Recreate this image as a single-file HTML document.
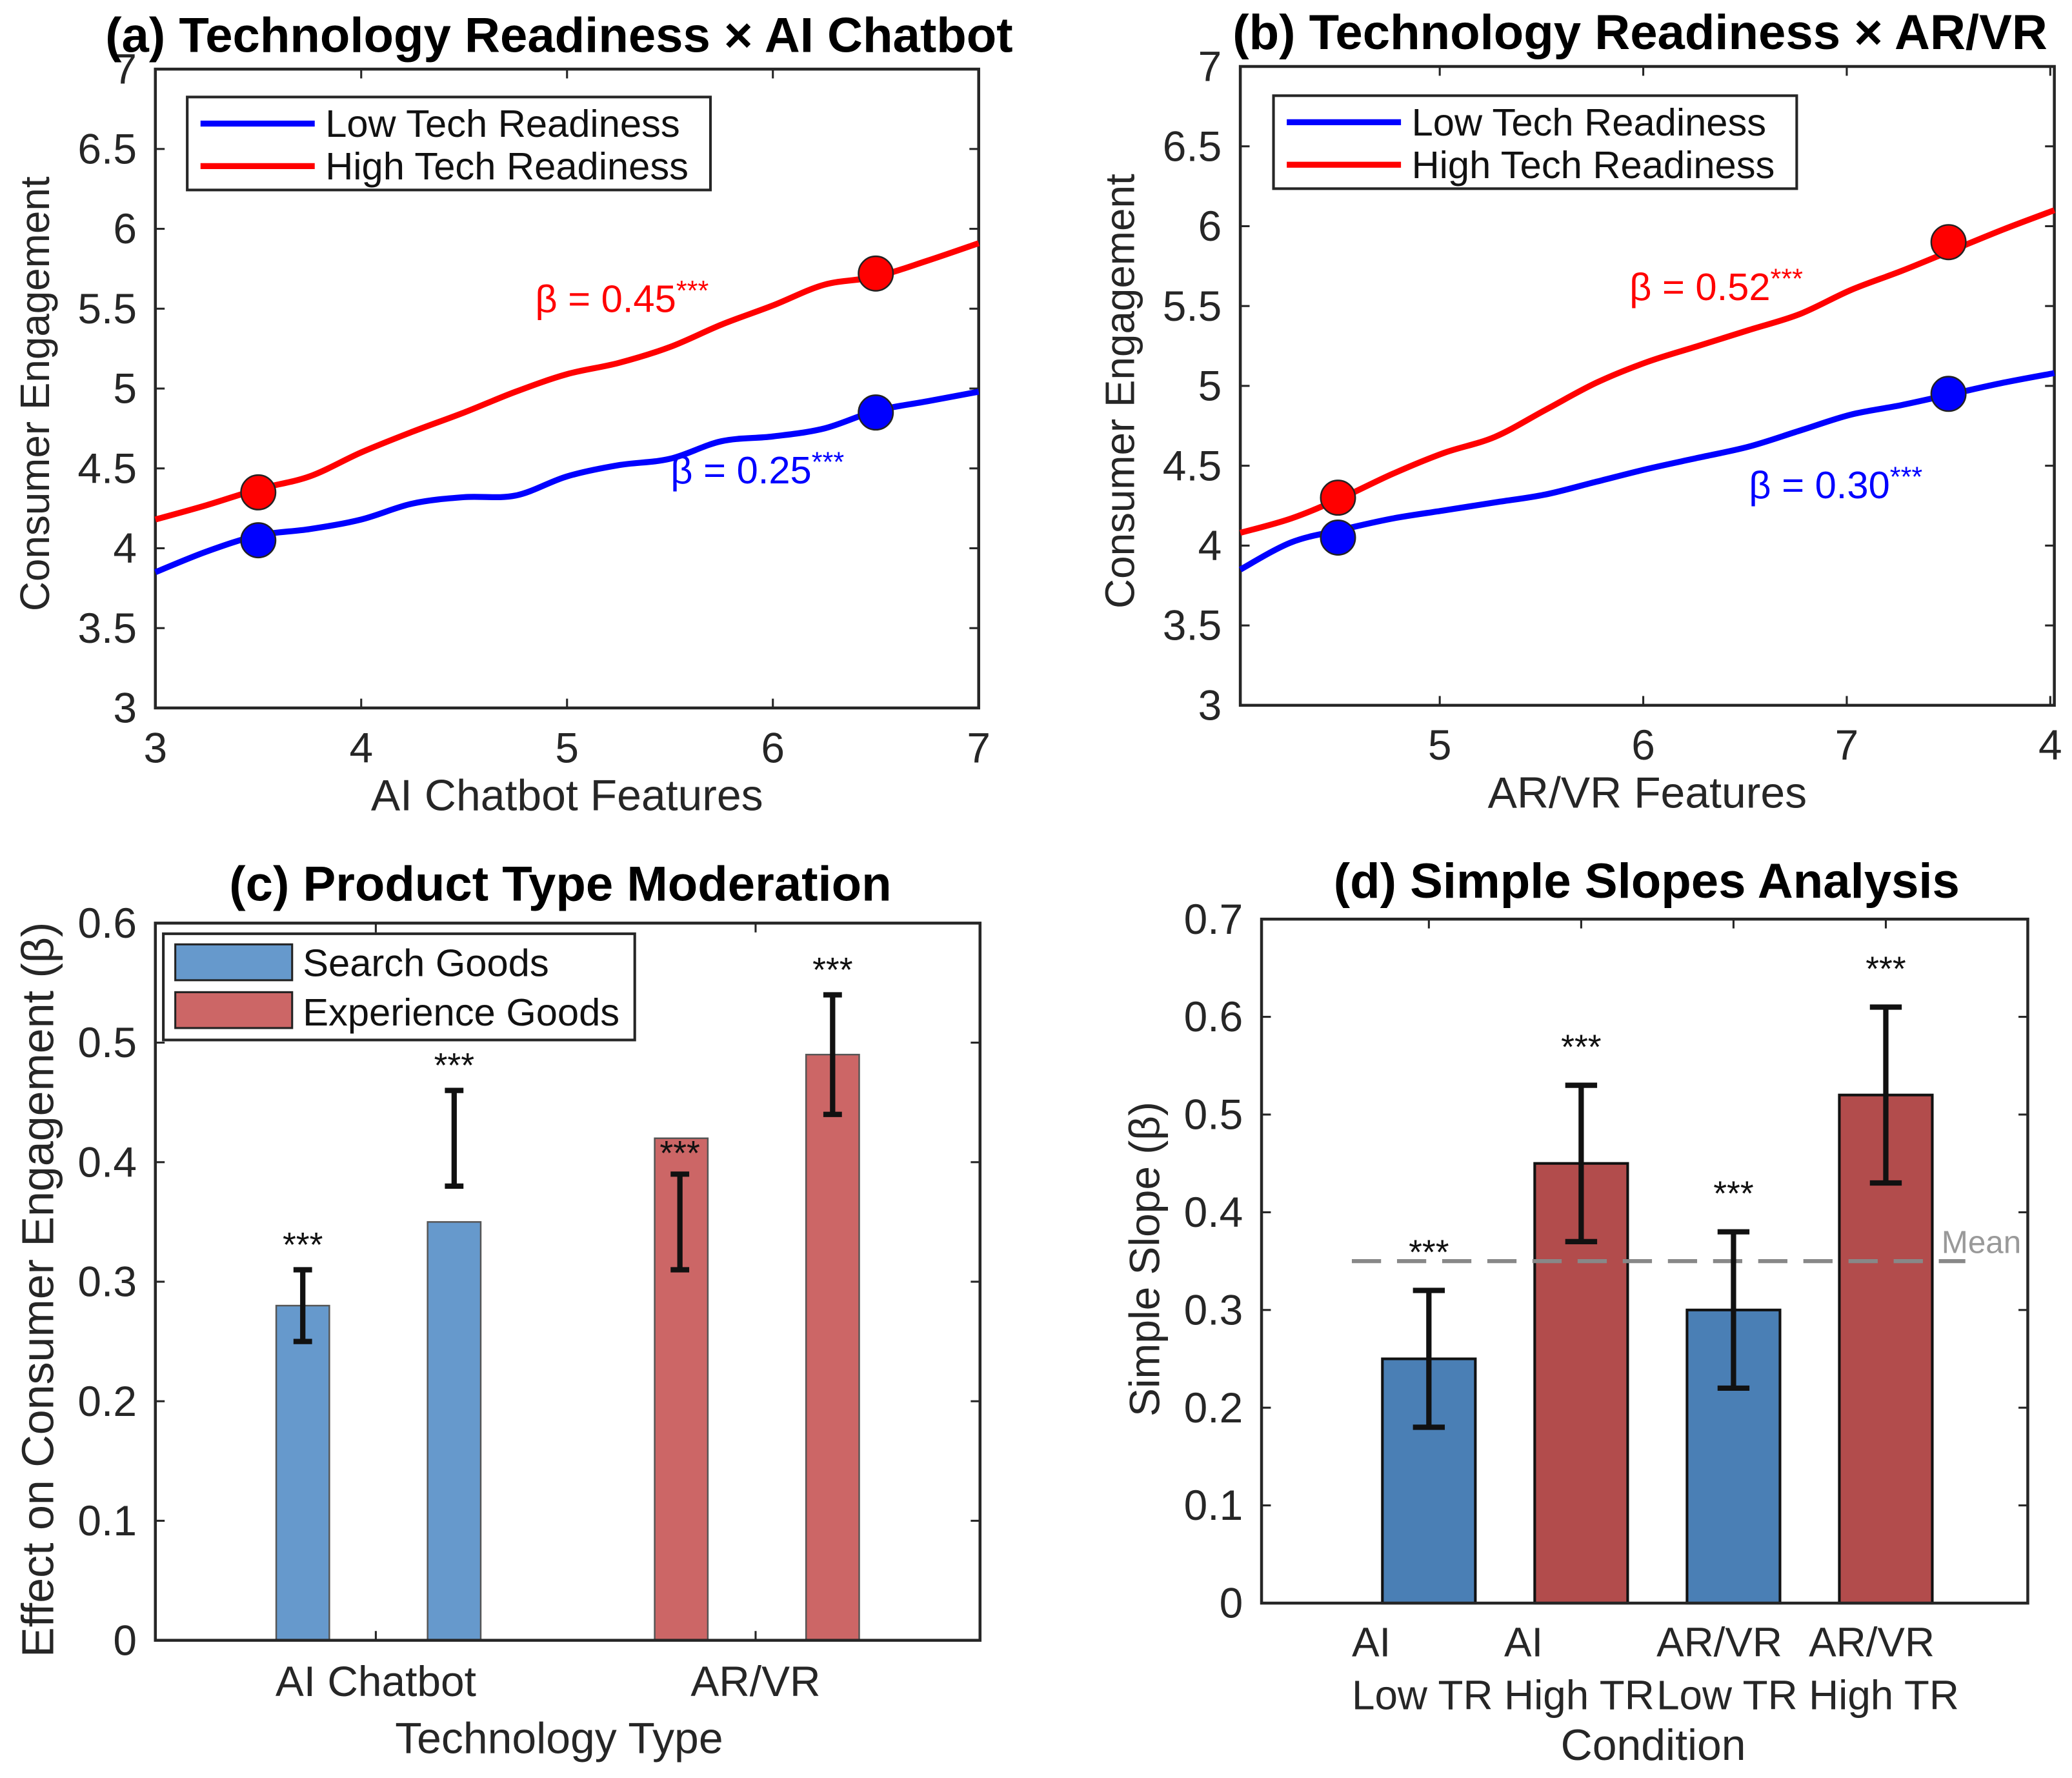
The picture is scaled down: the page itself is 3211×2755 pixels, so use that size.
<!DOCTYPE html>
<html><head><meta charset="utf-8"><style>
html,body{margin:0;padding:0;background:#fff}
svg text{font-family:"Liberation Sans",Arial,sans-serif}
</style></head><body>
<svg id="fig" xmlns="http://www.w3.org/2000/svg" width="3211" height="2750" viewBox="0 0 1560.3 1336.2">
<rect width="1560.3" height="1336.2" fill="#fff"/>
</svg>
<script>
// ---- Data ----
const lineX = [0,0.25,0.5,0.75,1,1.25,1.5,1.75,2,2.25,2.5,2.75,3,3.25,3.5,3.75,4];
const aHigh = [4.18,4.27,4.37,4.45,4.6,4.73,4.85,4.98,5.09,5.16,5.26,5.4,5.52,5.65,5.7,5.8,5.91];
const aLow  = [3.85,3.98,4.08,4.12,4.18,4.28,4.32,4.33,4.45,4.52,4.56,4.67,4.7,4.75,4.86,4.92,4.98];
const bHigh = [4.08,4.17,4.3,4.45,4.58,4.68,4.85,5.02,5.15,5.25,5.35,5.45,5.6,5.72,5.85,5.98,6.1];
const bLow  = [3.85,4.02,4.1,4.17,4.22,4.27,4.32,4.4,4.48,4.55,4.62,4.72,4.82,4.88,4.95,5.02,5.08];
const aMarkX = [3.5,6.5], aMarkHigh=[4.35,5.72], aMarkLow=[4.05,4.85];
const bMarkX = [4.5,7.5], bMarkHigh=[4.3,5.9], bMarkLow=[4.05,4.95];
const yTicksAB = [3,3.5,4,4.5,5,5.5,6,6.5,7];
const yTickLabelsAB = ["3","3.5","4","4.5","5","5.5","6","6.5","7"];
const cCats = ["AI Chatbot","AR/VR"];
const cSearch = [0.28,0.35], cSearchLo=[0.25,0.38], cSearchHi=[0.31,0.46];
const cExp = [0.42,0.49], cExpLo=[0.31,0.44], cExpHi=[0.39,0.54];
const cYTicks = [0,0.1,0.2,0.3,0.4,0.5,0.6];
const dCats1 = ["AI","AI","AR/VR","AR/VR"];
const dCats2 = ["Low TR","High TR","Low TR","High TR"];
const dVals = [0.25,0.45,0.30,0.52];
const dLo = [0.18,0.37,0.22,0.43];
const dHi = [0.32,0.53,0.38,0.61];
const dMean = 0.35;
const dYTicks = [0,0.1,0.2,0.3,0.4,0.5,0.6,0.7];

const NS="http://www.w3.org/2000/svg";
const svg=document.getElementById('fig');
function el(tag,attrs,parent,txt){const e=document.createElementNS(NS,tag);for(const k in attrs)e.setAttribute(k,attrs[k]);if(txt!==undefined)e.textContent=txt;(parent||svg).appendChild(e);return e;}
function scale(d0,d1,r0,r1){return v=>r0+(v-d0)/(d1-d0)*(r1-r0);}
function smooth(pts){let d="M"+pts[0][0]+","+pts[0][1];for(let i=0;i<pts.length-1;i++){const p0=pts[i-1]||pts[i],p1=pts[i],p2=pts[i+1],p3=pts[i+2]||p2;const c1=[p1[0]+(p2[0]-p0[0])/6,p1[1]+(p2[1]-p0[1])/6],c2=[p2[0]-(p3[0]-p1[0])/6,p2[1]-(p3[1]-p1[1])/6];d+=" C"+c1+" "+c2+" "+p2;}return d;}

function frame(g,L,R,T,B){el('rect',{x:L,y:T,width:R-L,height:B-T,fill:'none',stroke:'#262626','stroke-width':2.2},g);}

const TICKF=32, AXF=33, TITF=37;

function linePanel(o){
  const g=el('g',{});
  
  
  const X=scale(o.x0,o.x0+4,o.L,o.R), Y=scale(3,7,o.B,o.T);
  frame(g,o.L,o.R,o.T,o.B);
  yTicksAB.forEach((v,i)=>{const y=Y(v);
    el('line',{x1:o.L,x2:o.L+7,y1:y,y2:y,stroke:'#262626','stroke-width':1.5},g);
    el('line',{x1:o.R,x2:o.R-7,y1:y,y2:y,stroke:'#262626','stroke-width':1.5},g);
    const t=el('text',{x:o.L-14,y:y+11,'text-anchor':'end','font-size':TICKF,fill:'#262626'},g,yTickLabelsAB[i]);
    });
  o.xt.forEach((v,i)=>{const x=X(v);
    el('line',{x1:x,x2:x,y1:o.B,y2:o.B-7,stroke:'#262626','stroke-width':1.5},g);
    el('line',{x1:x,x2:x,y1:o.T,y2:o.T+7,stroke:'#262626','stroke-width':1.5},g);
    const t=el('text',{x:x,y:o.B+41,'text-anchor':'middle','font-size':TICKF,fill:'#262626'},g,o.xtl[i]);
    });
  [[o.low,'#0000ff','low-tr-line'],[o.high,'#ff0000','high-tr-line']].forEach(([arr,c,n])=>{
    const p=el('path',{d:smooth(lineX.map((x,i)=>[X(o.x0+x),Y(arr[i])])),fill:'none',stroke:c,'stroke-width':4.5},g);
    });
  o.mx.forEach((x,i)=>{
    const c1=el('circle',{cx:X(x),cy:Y(o.mh[i]),r:13,fill:'#ff0000',stroke:'#222','stroke-width':1.2},g);
    
    const c2=el('circle',{cx:X(x),cy:Y(o.ml[i]),r:13,fill:'#0000ff',stroke:'#222','stroke-width':1.2},g);
    });
  const t1=el('text',{x:o.hx,y:o.hy,'font-size':29,fill:'#ff0000'},g);
  
  t1.innerHTML=o.hl+'<tspan font-size="21" dy="-9">***</tspan>';
  const t2=el('text',{x:o.lx,y:o.ly,'font-size':29,fill:'#0000ff'},g);
  
  t2.innerHTML=o.ll+'<tspan font-size="21" dy="-9">***</tspan>';
  // legend
  const lg=el('g',{},g);
  el('rect',{x:o.lgx,y:o.lgy,width:394,height:70,fill:'#fff',stroke:'#262626','stroke-width':2},lg);
  el('line',{x1:o.lgx+10,x2:o.lgx+96,y1:o.lgy+20,y2:o.lgy+20,stroke:'#0000ff','stroke-width':4.5},lg);
  el('line',{x1:o.lgx+10,x2:o.lgx+96,y1:o.lgy+52,y2:o.lgy+52,stroke:'#ff0000','stroke-width':4.5},lg);
  el('text',{x:o.lgx+104,y:o.lgy+30,'font-size':29,fill:'#111'},lg,'Low Tech Readiness');
  el('text',{x:o.lgx+104,y:o.lgy+62,'font-size':29,fill:'#111'},lg,'High Tech Readiness');
  const tt=el('text',{x:o.tx,y:o.T-13,'text-anchor':'middle','font-size':TITF,'font-weight':'bold',fill:'#000'},g,o.title);
  
  const xl=el('text',{x:(o.L+o.R)/2,y:o.B+77,'text-anchor':'middle','font-size':AXF,fill:'#262626'},g,o.xlabel);
  
  const yl=el('text',{x:0,y:0,transform:`translate(${o.L-80},${(o.T+o.B)/2+4}) rotate(-90)`,'text-anchor':'middle','font-size':31,fill:'#262626'},g,'Consumer Engagement');
  
}
linePanel({name:'panel-a',x0:3,L:117,R:737,T:52,B:533,xt:[3,4,5,6,7],xtl:["3","4","5","6","7"],low:aLow,high:aHigh,mx:aMarkX,mh:aMarkHigh,ml:aMarkLow,
  hx:403,hy:235,hl:'β = 0.45',lx:505,ly:364,ll:'β = 0.25',lgx:141,lgy:73,tx:421,title:'(a) Technology Readiness × AI Chatbot',xlabel:'AI Chatbot Features'});
linePanel({name:'panel-b',x0:4.02,L:934,R:1547,T:50,B:531,xt:[5,6,7,8],xtl:["5","6","7","4"],low:bLow,high:bHigh,mx:bMarkX,mh:bMarkHigh,ml:bMarkLow,
  hx:1227,hy:226,hl:'β = 0.52',lx:1317,ly:375,ll:'β = 0.30',lgx:959,lgy:72,tx:1235,title:'(b) Technology Readiness × AR/VR',xlabel:'AR/VR Features'});

function errbar(g,x,y1,y2,w){
  el('line',{x1:x,x2:x,y1:y1,y2:y2,stroke:'#111','stroke-width':4},g);
  el('line',{x1:x-w,x2:x+w,y1:y1,y2:y1,stroke:'#111','stroke-width':4},g);
  el('line',{x1:x-w,x2:x+w,y1:y2,y2:y2,stroke:'#111','stroke-width':4},g);
}
function stars(g,x,y){const t=el('text',{x:x,y:y,'text-anchor':'middle','font-size':26,fill:'#111'},g,'***');}

// Panel c
(function(){
  const L=117,R=738,T=695,B=1235;
  const g=el('g',{});
  const Y=scale(0,0.6,B,T);
  const cx=[283,569];
  cYTicks.forEach(v=>{const y=Y(v);
    el('line',{x1:L,x2:L+7,y1:y,y2:y,stroke:'#262626','stroke-width':1.5},g);
    el('line',{x1:R,x2:R-7,y1:y,y2:y,stroke:'#262626','stroke-width':1.5},g);
    const t=el('text',{x:L-14,y:y+11,'text-anchor':'end','font-size':TICKF,fill:'#262626'},g,String(v));
    });
  cCats.forEach((c,i)=>{
    el('line',{x1:cx[i],x2:cx[i],y1:B,y2:B-7,stroke:'#262626','stroke-width':1.5},g);
    el('line',{x1:cx[i],x2:cx[i],y1:T,y2:T+7,stroke:'#262626','stroke-width':1.5},g);
    const t=el('text',{x:cx[i],y:B+42,'text-anchor':'middle','font-size':TICKF,fill:'#262626'},g,c);
    
  });
  const barX=[[228,342],[513,627]];
  [[cSearch,cSearchLo,cSearchHi,'#6699cc','search-goods-bar'],[cExp,cExpLo,cExpHi,'#cc6666','experience-goods-bar']].forEach(([vals,lo,hi,col,n],gi)=>{
    vals.forEach((v,i)=>{const x=barX[gi][i];
      const r=el('rect',{x:x-20,y:Y(v),width:40,height:B-Y(v),fill:col,stroke:'#555','stroke-width':1.2},g);
      
      const special=(gi==1&&i==0);
      const ex=special?x-1:x;
      errbar(g,ex,Y(hi[i]),Y(lo[i]),7);
      stars(g,ex,special?Y(v)+20:Y(hi[i])-10);
    });
  });
  frame(g,L,R,T,B);
  const lg=el('g',{},g);
  el('rect',{x:123,y:703,width:355,height:80,fill:'#fff',stroke:'#262626','stroke-width':2},lg);
  el('rect',{x:132,y:711,width:88,height:27,fill:'#6699cc',stroke:'#222','stroke-width':1.5},lg);
  el('rect',{x:132,y:747,width:88,height:27,fill:'#cc6666',stroke:'#222','stroke-width':1.5},lg);
  el('text',{x:228,y:735,'font-size':29,fill:'#111'},lg,'Search Goods');
  el('text',{x:228,y:772,'font-size':29,fill:'#111'},lg,'Experience Goods');
  const tt=el('text',{x:422,y:678,'text-anchor':'middle','font-size':TITF,'font-weight':'bold',fill:'#000'},g,'(c) Product Type Moderation');
  
  const xl=el('text',{x:421,y:1320,'text-anchor':'middle','font-size':AXF,fill:'#262626'},g,'Technology Type');
  
  const yl=el('text',{x:0,y:0,transform:`translate(40,${(T+B)/2+6}) rotate(-90)`,'text-anchor':'middle','font-size':34,fill:'#262626'},g,'Effect on Consumer Engagement (β)');
  
})();

// Panel d
(function(){
  const L=950,R=1527,T=692,B=1207;
  const g=el('g',{});
  const Y=scale(0,0.7,B,T);
  const X=i=>1076+i*114.7;
  dYTicks.forEach(v=>{const y=Y(v);
    el('line',{x1:L,x2:L+7,y1:y,y2:y,stroke:'#262626','stroke-width':1.5},g);
    el('line',{x1:R,x2:R-7,y1:y,y2:y,stroke:'#262626','stroke-width':1.5},g);
    const t=el('text',{x:L-14,y:y+11,'text-anchor':'end','font-size':TICKF,fill:'#262626'},g,String(v));
    });
  dVals.forEach((v,i)=>{const x=X(i);
    el('line',{x1:x,x2:x,y1:T,y2:T+7,stroke:'#262626','stroke-width':1.5},g);
    const r=el('rect',{x:x-35,y:Y(v),width:70,height:B-Y(v),fill:i%2?'#b24c4c':'#4a7fb5',stroke:'#111','stroke-width':2},g);
    
    const t1=el('text',{x:x-58,y:B+40,'font-size':31,fill:'#262626'},g,dCats1[i]);
    
    const t2=el('text',{x:x-58,y:B+80,'font-size':31,fill:'#262626'},g,dCats2[i]);
    
  });
  const m=el('line',{x1:1018,x2:1480,y1:Y(dMean),y2:Y(dMean),stroke:'#888','stroke-width':3,'stroke-dasharray':'22,12'},g);
  
  const ml=el('text',{x:1462,y:Y(dMean)-6,'font-size':24,fill:'#999'},g,'Mean');
  
  dVals.forEach((v,i)=>{errbar(g,X(i),Y(dHi[i]),Y(dLo[i]),12);stars(g,X(i),Y(dHi[i])-20);});
  frame(g,L,R,T,B);
  const tt=el('text',{x:1240,y:676,'text-anchor':'middle','font-size':TITF,'font-weight':'bold',fill:'#000'},g,'(d) Simple Slopes Analysis');
  
  const xl=el('text',{x:1245,y:1325,'text-anchor':'middle','font-size':AXF,fill:'#262626'},g,'Condition');
  
  const yl=el('text',{x:0,y:0,transform:`translate(873,948) rotate(-90)`,'text-anchor':'middle','font-size':32,fill:'#262626'},g,'Simple Slope (β)');
  
})();
</script>
</body></html>
